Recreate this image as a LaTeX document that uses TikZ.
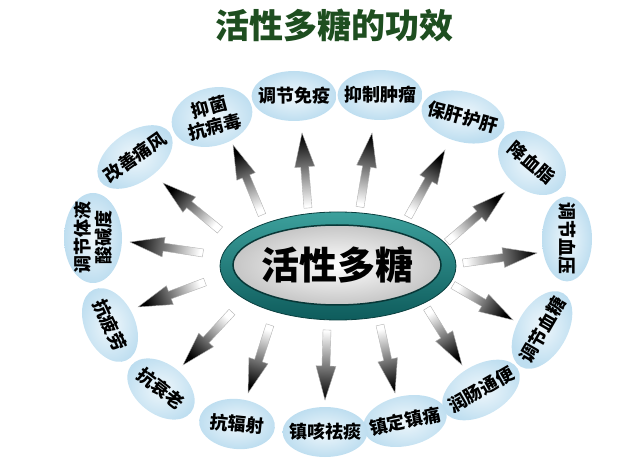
\documentclass[tikz,border=0pt]{standalone}
\usepackage{fontspec}
\newfontfamily\cjk{Noto Sans CJK SC}
\usepackage{tikz}
\usetikzlibrary{calc,shapes.geometric}
\definecolor{titlegreen}{RGB}{30,78,32}
\definecolor{satblue}{RGB}{190,222,240}
\definecolor{tealdark}{RGB}{14,92,92}
\definecolor{tealmid}{RGB}{60,160,156}

% shaded block arrow from tail #1 to tip #2
\newcommand{\gradarrow}[2]{%
  \pgfmathanglebetweenpoints{\pgfpointanchor{#1}{center}}{\pgfpointanchor{#2}{center}}%
  \pgfmathsetmacro{\arrowang}{\pgfmathresult-90}%
  \coordinate (neck) at ($(#2)!34pt!(#1)$);
  \shadedraw[bottom color=white, top color=black, shading angle=\arrowang,
             draw=gray!60, line width=0.4pt]
    ($(#1)!4pt!90:(#2)$) -- ($(neck)!4pt!-90:(#1)$) -- ($(neck)!10pt!-90:(#1)$)
    -- (#2) -- ($(neck)!10pt!90:(#1)$) -- ($(neck)!4pt!90:(#1)$)
    -- ($(#1)!4pt!-90:(#2)$) -- cycle;
}

\begin{document}
\begin{tikzpicture}[
  x=1pt, y=1pt,
  sat/.style={ellipse, inner color=satblue!25, outer color=satblue, draw=none,
              minimum width=82pt, minimum height=50pt, inner xsep=-6pt, inner ysep=0pt,
              align=center, font=\cjk\bfseries\fontsize{18}{21}\selectfont},
  twoline/.style={minimum width=90pt, minimum height=58pt}
]
\useasboundingbox (0,0) rectangle (640,-462);

% ============= Title =============
\node[font=\cjk\bfseries\fontsize{34}{36}\selectfont, text=titlegreen] (title) at (334,-25) {活性多糖的功效};

% ============= Effects =============
\node[sat] (immune) at (294,-96) {调节免疫};
\node[sat] (tumor) at (380,-95) {抑制肿瘤};
\node[sat, rotate=-15] (liver) at (463,-117) {保肝护肝};
\node[sat, rotate=-40, minimum width=76pt, minimum height=54pt] (lipid) at (532,-163) {降血脂};
\node[sat, rotate=-90, minimum width=80pt] (pressure) at (567,-239) {调节血压};
\node[sat, rotate=60] (sugar) at (542,-330) {调节血糖};
\node[sat, rotate=30] (bowel) at (481,-390) {润肠通便};
\node[sat, rotate=12] (calm) at (405,-421) {镇定镇痛};
\node[sat] (cough) at (325,-432) {镇咳祛痰};
\node[sat, rotate=-6, minimum width=76pt] (radiation) at (237,-424) {抗辐射};
\node[sat, rotate=-38, minimum width=76pt] (aging) at (161,-389) {抗衰老};
\node[sat, rotate=-65, minimum width=78pt] (fatigue) at (110,-325) {抗疲劳};
\node[sat, twoline, rotate=90] (ph) at (93,-238) {调节体液\\酸碱度};
\node[sat, rotate=35] (gout) at (135,-157) {改善痛风};
\node[sat, twoline, rotate=15, minimum width=82pt] (virus) at (212,-117) {抑菌\\抗病毒};

% ============= Arrows =============
\coordinate (t1) at (308,-208);  \coordinate (h1) at (302,-133);
\coordinate (t2) at (360,-207);  \coordinate (h2) at (372,-133);
\coordinate (t3) at (408,-217);  \coordinate (h3) at (445,-150);
\coordinate (t4) at (447,-242);  \coordinate (h4) at (505,-192);
\coordinate (t5) at (463,-263);  \coordinate (h5) at (537,-253);
\coordinate (t6) at (453,-285);  \coordinate (h6) at (513,-320);
\coordinate (t7) at (427,-308);  \coordinate (h7) at (462,-365);
\coordinate (t8) at (380,-325);  \coordinate (h8) at (395,-393);
\coordinate (t9) at (327,-330);  \coordinate (h9) at (325,-400);
\coordinate (t10) at (270,-325); \coordinate (h10) at (248,-393);
\coordinate (t11) at (232,-312); \coordinate (h11) at (183,-365);
\coordinate (t12) at (205,-282); \coordinate (h12) at (138,-307);
\coordinate (t13) at (203,-253); \coordinate (h13) at (130,-242);
\coordinate (t14) at (220,-230); \coordinate (h14) at (163,-183);
\coordinate (t15) at (262,-215); \coordinate (h15) at (233,-145);

\gradarrow{t1}{h1}
\gradarrow{t2}{h2}
\gradarrow{t3}{h3}
\gradarrow{t4}{h4}
\gradarrow{t5}{h5}
\gradarrow{t6}{h6}
\gradarrow{t7}{h7}
\gradarrow{t8}{h8}
\gradarrow{t9}{h9}
\gradarrow{t10}{h10}
\gradarrow{t11}{h11}
\gradarrow{t12}{h12}
\gradarrow{t13}{h13}
\gradarrow{t14}{h14}
\gradarrow{t15}{h15}

% ============= Center =============
\node[ellipse, minimum width=236pt, minimum height=108pt, top color=tealmid, bottom color=tealdark,
      draw=tealdark!70!black, line width=0.8pt] (ring) at (338,-266) {};
\node[ellipse, minimum width=208pt, minimum height=80pt, inner color=white, outer color=gray!45,
      draw=tealdark!60!black, line width=1.5pt] (disc) at (337,-265) {};
\node[font=\cjk\bfseries\fontsize{38}{40}\selectfont] (core) at (disc.center) {活性多糖};

\end{tikzpicture}
\end{document}
